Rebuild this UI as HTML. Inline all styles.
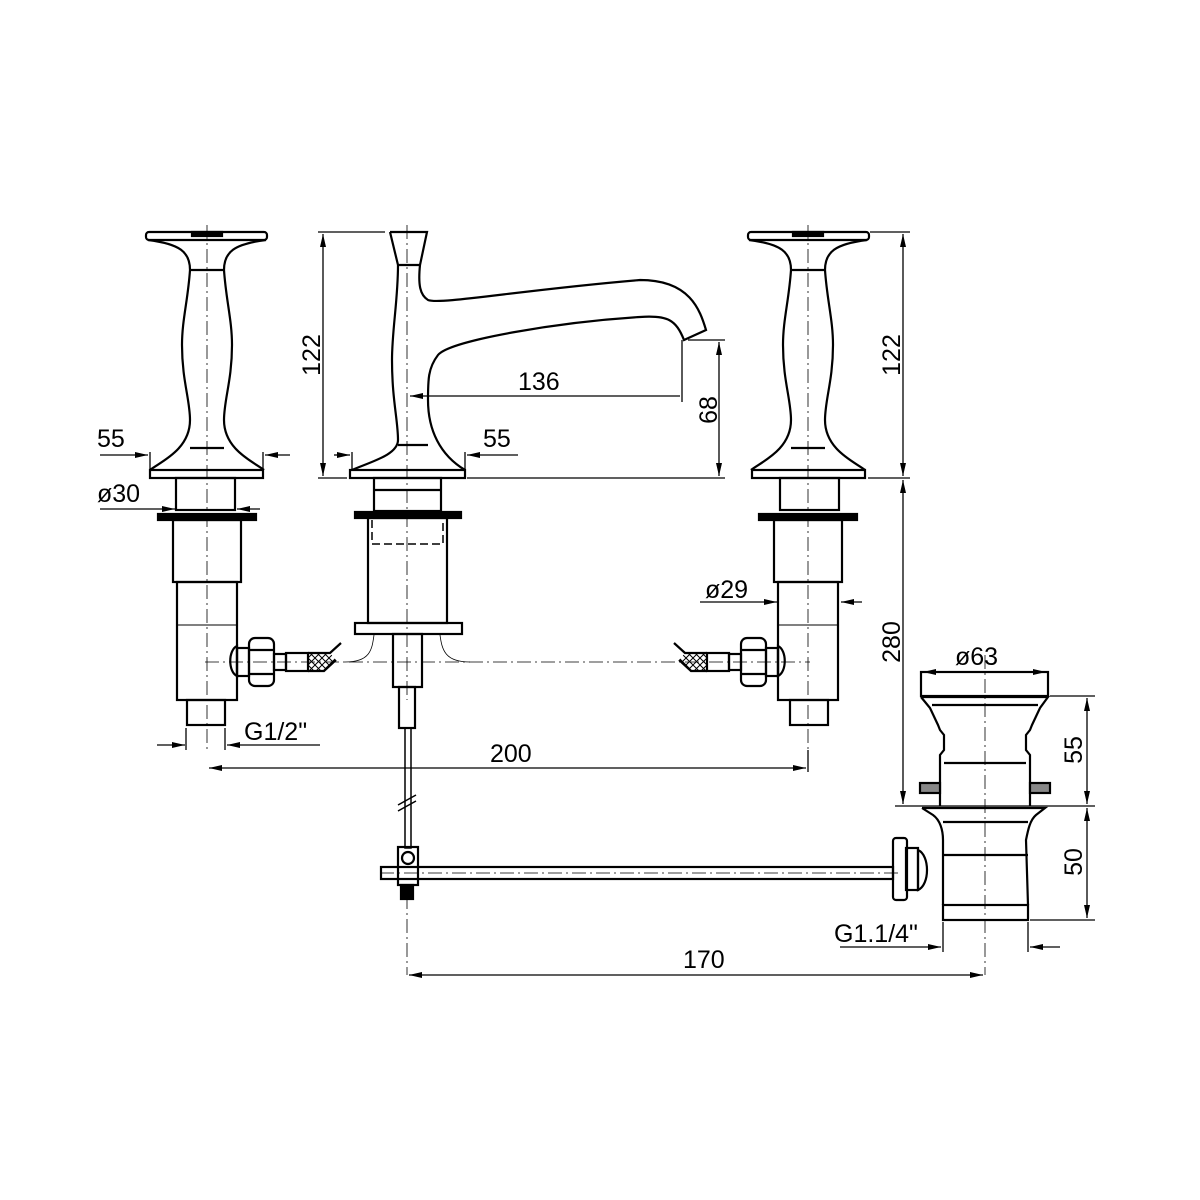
<!DOCTYPE html>
<html><head><meta charset="utf-8"><style>
html,body{margin:0;padding:0;background:#fff}
svg{display:block}
text{font-family:"Liberation Sans",sans-serif;font-size:25px;fill:#000}
</style></head><body>
<svg width="1200" height="1200" viewBox="0 0 1200 1200" xmlns="http://www.w3.org/2000/svg">
<defs>
<marker id="a" markerWidth="14" markerHeight="8" refX="13" refY="4" orient="auto-start-reverse" markerUnits="userSpaceOnUse"><path d="M0,1 L13,4 L0,7" fill="#000"/></marker>
<pattern id="h" width="7" height="7" patternUnits="userSpaceOnUse"><path d="M0,0 L7,7 M7,0 L0,7" stroke="#000" stroke-width="1"/></pattern>
<g id="valve" fill="none" stroke="#000" stroke-width="2.2">
 <rect x="146" y="232" width="121" height="8" rx="3"/>
 <rect x="192" y="232" width="30" height="4" fill="#000"/>
 <path d="M148,240 C180,244 190,252 190,270 C188,300 182,320 182,345 C182,380 190,400 190,420 C190,450 160,462 150,470 M266,240 C234,244 224,252 224,270 C226,300 232,320 232,345 C232,380 224,400 224,420 C224,450 254,462 264,470"/>
 <line x1="190" y1="270" x2="224" y2="270"/>
 <line x1="190" y1="448" x2="224" y2="448"/>
 <rect x="150" y="470" width="113" height="8"/>
 <rect x="176" y="478" width="59" height="32"/>
 <rect x="158" y="514" width="98" height="6" fill="#000"/>
 <rect x="173" y="520" width="68" height="62"/>
 <rect x="177" y="582" width="60" height="118"/>
 <line x1="177" y1="625" x2="237" y2="625" stroke-width="1"/>
 <path d="M237,646 C228,650 228,672 237,676 Z"/>
 <rect x="237" y="648" width="12" height="28"/>
 <rect x="249" y="638" width="25" height="48" rx="6"/>
 <line x1="249" y1="650" x2="274" y2="650"/><line x1="249" y1="674" x2="274" y2="674"/>
 <rect x="274" y="654" width="12" height="16"/>
 <rect x="286" y="653" width="22" height="18"/>
 <path d="M308,653 L330,653 L341,643 M308,671 L324,671 L336,660" />
 <path d="M308,653 L330,653 L336,660 L324,671 L308,671 Z" fill="url(#h)" stroke="none"/>
 <rect x="187" y="700" width="38" height="25"/>
</g>
</defs>

<g stroke="#000" stroke-width="0.8" stroke-dasharray="14,4,2,4" fill="none">
 <line x1="207" y1="225" x2="207" y2="750"/>
 <line x1="407" y1="225" x2="407" y2="700"/>
 <line x1="808" y1="225" x2="808" y2="750"/>
 <line x1="985" y1="655" x2="985" y2="975"/>
 <line x1="205" y1="662" x2="810" y2="662"/>
 <line x1="380" y1="873" x2="900" y2="873"/>
 <line x1="407" y1="895" x2="407" y2="975"/>
</g>
<path d="M345,662 C370,662 372,650 374,635 M470,662 C445,662 442,650 440,635" stroke="#000" stroke-width="0.8" fill="none"/>

<use href="#valve"/>
<use href="#valve" transform="translate(1015,0) scale(-1,1)"/>

<g fill="none" stroke="#000" stroke-width="2.2">
 <path d="M390,232 L427,232 L420,265 C418,285 420,295 428,300 C440,305 520,290 640,280 C690,280 700,310 706,330 L684,340 C676,320 668,315 640,317 C560,322 450,340 438,355 C428,368 428,380 428,400 C428,430 440,455 465,470 M390,232 L398,265 C398,300 392,330 392,360 C392,400 398,420 398,440 C398,455 370,462 352,470"/>
 <line x1="398" y1="265" x2="420" y2="265"/>
 <line x1="398" y1="445" x2="428" y2="445"/>
 <rect x="350" y="470" width="115" height="8"/>
 <rect x="374" y="478" width="67" height="33"/>
 <line x1="374" y1="490" x2="441" y2="490"/>
 <rect x="355" y="512" width="106" height="6" fill="#000"/>
 <rect x="368" y="518" width="79" height="105"/>
 <path d="M372,520 L372,544 L443,544 L443,520" stroke-dasharray="8,4" stroke-width="1.5"/>
 <rect x="355" y="623" width="107" height="11"/>
 <rect x="393" y="634" width="29" height="53"/>
 <rect x="399" y="687" width="16" height="41"/>
 <rect x="405" y="728" width="6" height="120" stroke-width="1.5"/>
 <path d="M398,805 L416,795 M398,811 L416,801" stroke-width="1.5"/>
 <rect x="398" y="847" width="20" height="38"/>
 <circle cx="408" cy="858" r="6"/>
 <rect x="401" y="885" width="12" height="14" fill="#000"/>
 <rect x="381" y="867" width="512" height="12"/>
 <rect x="893" y="838" width="14" height="62" rx="3"/>
 <rect x="906" y="848" width="12" height="42"/>
 <path d="M918,850 C930,855 930,885 918,890 Z"/>
</g>

<g fill="none" stroke="#000" stroke-width="2.2">
 <rect x="921" y="672" width="127" height="24"/>
 <path d="M921,697 L1048,697 L1040,708 L1032,725 L1030,730 L1026,735 L1026,750 L1030,755 L1030,806 M921,697 L930,708 L938,725 L940,730 L944,735 L944,750 L940,755 L940,806"/>
 <line x1="932" y1="705" x2="1038" y2="705"/>
 <line x1="944" y1="763" x2="1026" y2="763"/>
 <rect x="920" y="783" width="20" height="10" fill="#888"/>
 <rect x="1030" y="783" width="20" height="10" fill="#888"/>
 <path d="M922,808 L1045,808 L1036,815 C1030,820 1028,830 1026,840 L1028,905 M922,808 L933,815 C940,820 943,830 943,840 L943,905" />
 <line x1="943" y1="822" x2="1028" y2="822"/>
 <line x1="943" y1="855" x2="1028" y2="855"/>
 <rect x="943" y="905" width="85" height="15"/>
</g>

<g stroke="#000" stroke-width="1.3" fill="none">
 <line x1="318" y1="232" x2="385" y2="232"/><line x1="318" y1="478" x2="347" y2="478"/>
 <line x1="323" y1="234" x2="323" y2="476" marker-start="url(#a)" marker-end="url(#a)"/>
 <line x1="100" y1="455" x2="148" y2="455" marker-end="url(#a)"/>
 <line x1="290" y1="455" x2="265" y2="455" marker-end="url(#a)"/>
 <line x1="150" y1="452" x2="150" y2="470"/><line x1="263" y1="452" x2="263" y2="470"/>
 <line x1="100" y1="509" x2="175" y2="509" marker-end="url(#a)"/>
 <line x1="260" y1="509" x2="237" y2="509" marker-end="url(#a)"/>
 <line x1="334" y1="455" x2="350" y2="455" marker-end="url(#a)"/>
 <line x1="518" y1="455" x2="467" y2="455" marker-end="url(#a)"/>
 <line x1="352" y1="452" x2="352" y2="470"/><line x1="465" y1="452" x2="465" y2="470"/>
 <line x1="680" y1="396" x2="410" y2="396" marker-end="url(#a)"/>
 <line x1="682" y1="340" x2="682" y2="402"/>
 <line x1="688" y1="340" x2="725" y2="340"/><line x1="467" y1="478" x2="725" y2="478"/>
 <line x1="719" y1="342" x2="719" y2="476" marker-start="url(#a)" marker-end="url(#a)"/>
 <line x1="870" y1="232" x2="910" y2="232"/><line x1="868" y1="478" x2="910" y2="478"/>
 <line x1="903" y1="234" x2="903" y2="476" marker-start="url(#a)" marker-end="url(#a)"/>
 <line x1="903" y1="480" x2="903" y2="804" marker-start="url(#a)" marker-end="url(#a)"/>
 <line x1="700" y1="602" x2="777" y2="602" marker-end="url(#a)"/>
 <line x1="862" y1="602" x2="841" y2="602" marker-end="url(#a)"/>
 <line x1="157" y1="745" x2="185" y2="745" marker-end="url(#a)"/>
 <line x1="320" y1="745" x2="227" y2="745" marker-end="url(#a)"/>
 <line x1="186" y1="728" x2="186" y2="750"/><line x1="225" y1="728" x2="225" y2="750"/>
 <line x1="209" y1="768" x2="806" y2="768" marker-start="url(#a)" marker-end="url(#a)"/>
 <line x1="808" y1="750" x2="808" y2="772"/>
 <line x1="923" y1="672" x2="1046" y2="672" marker-start="url(#a)" marker-end="url(#a)"/>
 <line x1="1050" y1="696" x2="1095" y2="696"/><line x1="895" y1="806" x2="1095" y2="806"/><line x1="1030" y1="920" x2="1095" y2="920"/>
 <line x1="1087" y1="698" x2="1087" y2="804" marker-start="url(#a)" marker-end="url(#a)"/>
 <line x1="1087" y1="808" x2="1087" y2="918" marker-start="url(#a)" marker-end="url(#a)"/>
 <line x1="840" y1="947" x2="941" y2="947" marker-end="url(#a)"/>
 <line x1="1060" y1="947" x2="1030" y2="947" marker-end="url(#a)"/>
 <line x1="943" y1="922" x2="943" y2="952"/><line x1="1028" y1="922" x2="1028" y2="952"/>
 <line x1="409" y1="975" x2="983" y2="975" marker-start="url(#a)" marker-end="url(#a)"/>
</g>

<text x="97" y="447">55</text>
<text x="97" y="502">ø30</text>
<text x="483" y="447">55</text>
<text x="518" y="390">136</text>
<text x="244" y="740">G1/2"</text>
<text x="490" y="762">200</text>
<text x="705" y="598">ø29</text>
<text x="955" y="665">ø63</text>
<text x="834" y="942">G1.1/4"</text>
<text x="683" y="968">170</text>
<text transform="translate(320,355) rotate(-90)" text-anchor="middle">122</text>
<text transform="translate(900,355) rotate(-90)" text-anchor="middle">122</text>
<text transform="translate(900,642) rotate(-90)" text-anchor="middle">280</text>
<text transform="translate(717,410) rotate(-90)" text-anchor="middle">68</text>
<text transform="translate(1082,750) rotate(-90)" text-anchor="middle">55</text>
<text transform="translate(1082,862) rotate(-90)" text-anchor="middle">50</text>
</svg>
</body></html>
